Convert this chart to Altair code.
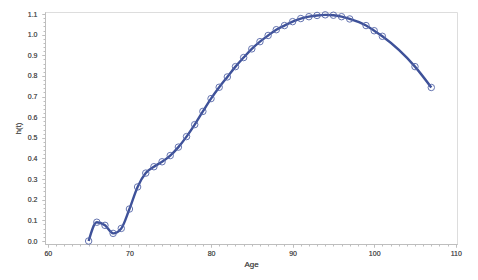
import altair as alt
import pandas as pd

ages = [65, 66, 67, 68, 69, 70, 71, 72, 73, 74, 75, 76, 77, 78, 79, 80, 81, 82, 83,
        84, 85, 86, 87, 88, 89, 90, 91, 92, 93, 94, 95, 96, 97, 99, 100, 101, 105, 107]
hazard = [0.0, 0.091, 0.076, 0.037, 0.061, 0.155, 0.262, 0.329, 0.36, 0.384, 0.414,
          0.455, 0.506, 0.564, 0.628, 0.69, 0.745, 0.795, 0.845, 0.889, 0.931, 0.966,
          0.996, 1.024, 1.044, 1.063, 1.078, 1.087, 1.093, 1.096, 1.094, 1.087, 1.076,
          1.044, 1.019, 0.992, 0.845, 0.744]

x_major = [60, 70, 80, 90, 100, 110]
y_major = [0.0, 0.1, 0.2, 0.3, 0.4, 0.5, 0.6, 0.7, 0.8, 0.9, 1.0, 1.1]
x_minor = [v for v in range(60, 111)]
y_minor = [round(i * 0.02, 2) for i in range(0, 56)]

df = pd.DataFrame({"Age": ages, "h": hazard})

FONT = "Liberation Sans"
LINE = "#3E5199"
AXC = "#BEBEBE"
TXT = "#555555"

xscale = alt.Scale(domain=[59.65, 110.15], nice=False, zero=False)
yscale = alt.Scale(domain=[-0.0145, 1.1097], nice=False, zero=False)

xaxis = alt.Axis(values=x_major, title="Age", grid=False, tickSize=3, tickColor=AXC,
                 domainColor=AXC, labelFontSize=7, labelColor=TXT, labelFont=FONT,
                 labelFontWeight="normal",
                 titleFont=FONT, titleFontSize=8, titleFontWeight="normal",
                 titleColor=TXT, labelPadding=2, titlePadding=4, orient="bottom")
yaxis = alt.Axis(values=y_major, format=".1f", title="h(t)", grid=False, tickSize=3,
                 tickColor=AXC, domainColor=AXC, labelFontSize=7, labelColor=TXT,
                 labelFontWeight="normal",
                 labelFont=FONT, titleFont=FONT, titleFontSize=8, titleFontWeight="normal",
                 titleColor=TXT, labelPadding=5, titlePadding=5, orient="left")

line = alt.Chart(df).mark_line(color=LINE, strokeWidth=2.4, interpolate="monotone").encode(
    x=alt.X("Age:Q", scale=xscale, axis=xaxis),
    y=alt.Y("h:Q", scale=yscale, axis=yaxis),
)

pts = alt.Chart(df).mark_point(shape="circle", size=42, filled=False, color="#5465A8",
                               strokeWidth=1, opacity=0.9).encode(
    x=alt.X("Age:Q", scale=xscale, axis=xaxis),
    y=alt.Y("h:Q", scale=yscale, axis=yaxis),
)

minor = alt.Chart(df).mark_point(opacity=0).encode(
    x=alt.X("Age:Q", scale=xscale,
            axis=alt.Axis(values=x_minor, labels=False, title=None, grid=False, domain=False,
                          tickSize=2, tickColor=AXC, orient="bottom")),
    y=alt.Y("h:Q", scale=yscale,
            axis=alt.Axis(values=y_minor, labels=False, title=None, grid=False, domain=False,
                          tickSize=2, tickColor=AXC, orient="left")),
)

chart = alt.layer(minor, line, pts).resolve_axis(x="independent", y="independent").properties(
    width=412, height=232,
    autosize=alt.AutoSizeParams(type="none"),
    padding={"left": 37, "top": 4, "right": 13, "bottom": 28},
).configure_view(stroke=AXC, strokeWidth=1).configure(background="white")

chart.save("out.html", embed_options={"renderer": "svg", "actions": False})
